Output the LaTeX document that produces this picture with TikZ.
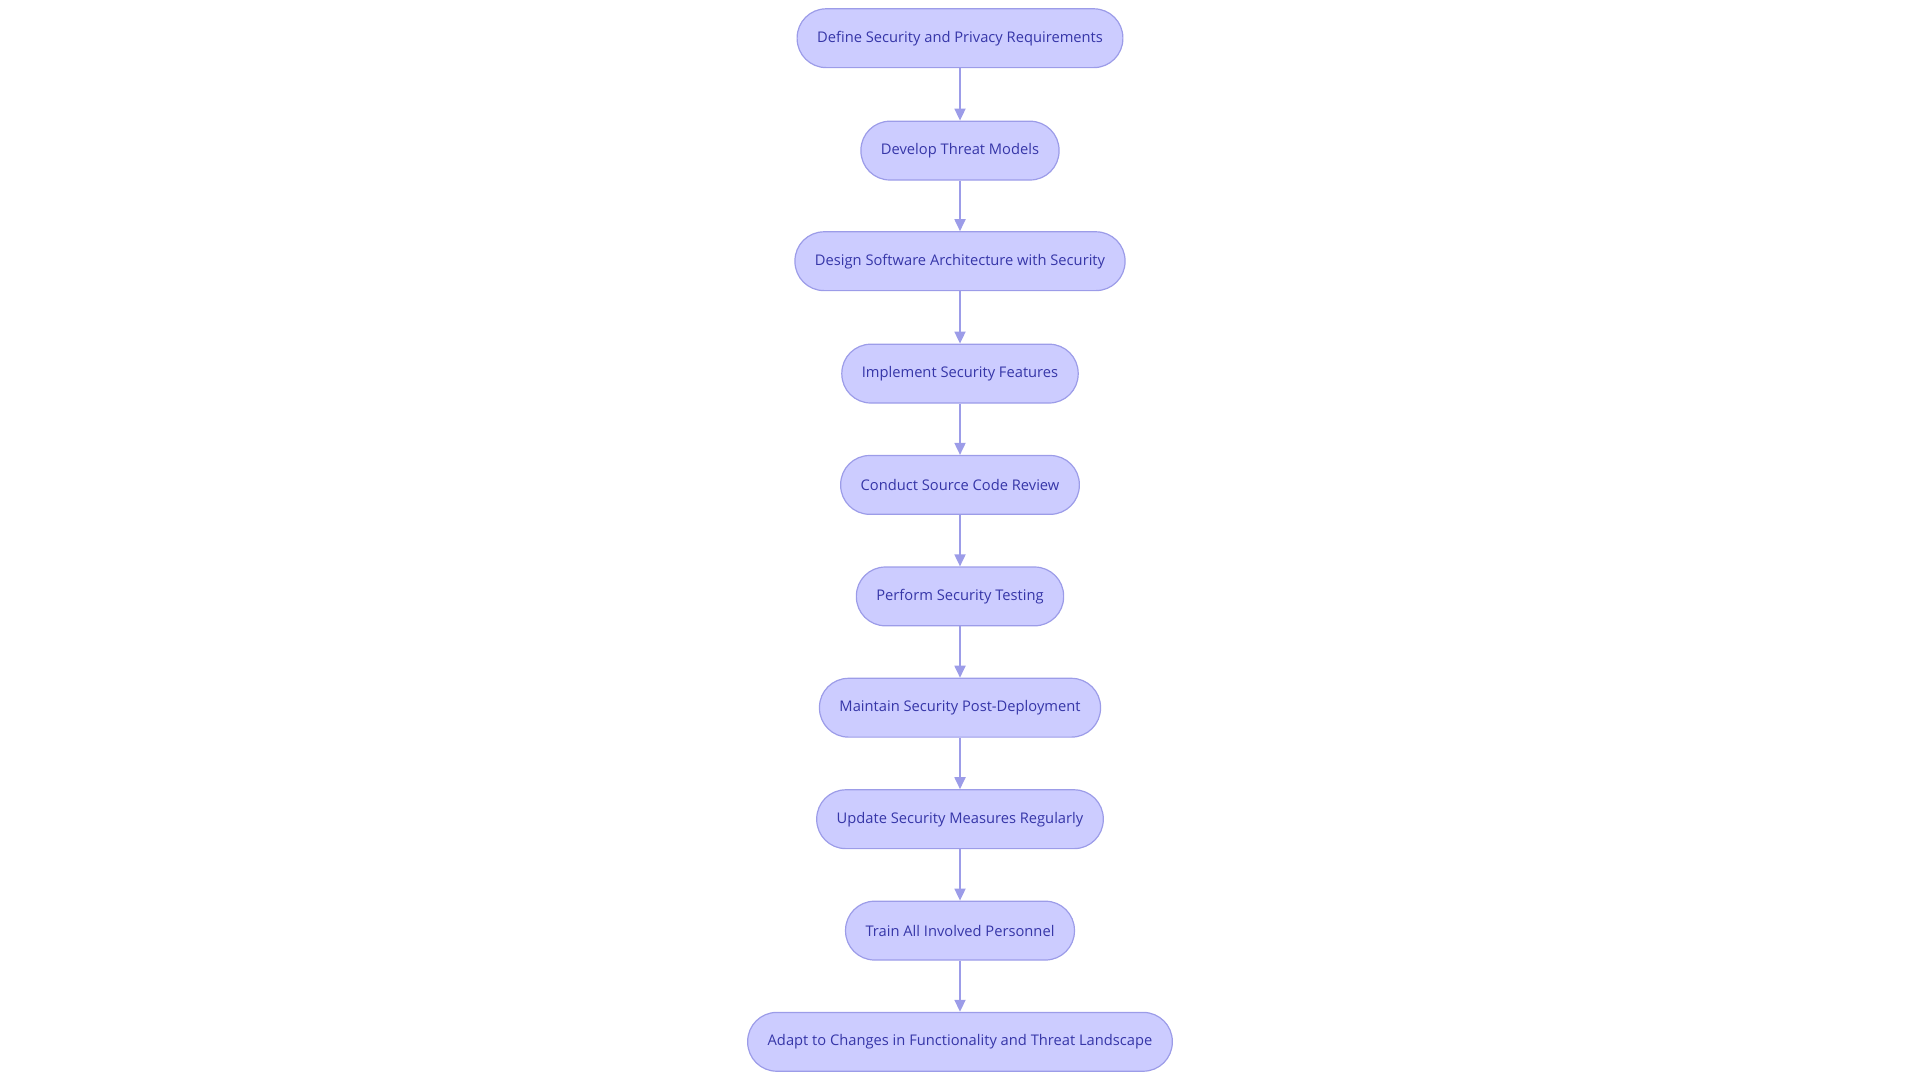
\documentclass[tikz,border=0pt]{standalone}
\usepackage{fontspec}
\setmainfont{Open Sans}
\usepackage{tikz}
\usepackage{color}
\usetikzlibrary{arrows.meta}

\definecolor{stepfill}{HTML}{CCCCFF}
\definecolor{stepline}{HTML}{9C9CE8}
\definecolor{steptext}{HTML}{3636A8}

\begin{document}
\begin{tikzpicture}[x=1pt,y=1pt]
            \tikzstyle{stepbox}=[draw=stepline, line width=1.2pt, fill=stepfill, text=steptext,
                rounded corners=29pt, minimum height=58.8pt, inner xsep=20pt,
                font=\fontsize{14.7}{17}\selectfont]
            \tikzstyle{flow}=[draw=stepline, line width=1.8pt, -{Triangle[length=12pt,width=11pt]}]
            \useasboundingbox (0,0) rectangle (1920,-1080);
            \node [stepbox] (define) at (960,-38.2) {Define Security and Privacy Requirements};
            \node [stepbox] (threat) at (960,-150.6) {Develop Threat Models};
            \node [stepbox] (design) at (960,-261.2) {Design Software Architecture with Security};
            \node [stepbox] (implement) at (960,-373.6) {Implement Security Features};
            \node [stepbox] (review) at (960,-484.9) {Conduct Source Code Review};
            \node [stepbox] (testing) at (960,-596.4) {Perform Security Testing};
            \node [stepbox] (maintain) at (960,-707.7) {Maintain Security Post-Deployment};
            \node [stepbox] (update) at (960,-819.2) {Update Security Measures Regularly};
            \node [stepbox] (train) at (960,-930.6) {Train All Involved Personnel};
            \node [stepbox] (adapt) at (960,-1041.8) {Adapt to Changes in Functionality and Threat Landscape};
            \draw [flow] (define) -- (threat);
            \draw [flow] (threat) -- (design);
            \draw [flow] (design) -- (implement);
            \draw [flow] (implement) -- (review);
            \draw [flow] (review) -- (testing);
            \draw [flow] (testing) -- (maintain);
            \draw [flow] (maintain) -- (update);
            \draw [flow] (update) -- (train);
            \draw [flow] (train) -- (adapt);
\end{tikzpicture}
\end{document}
